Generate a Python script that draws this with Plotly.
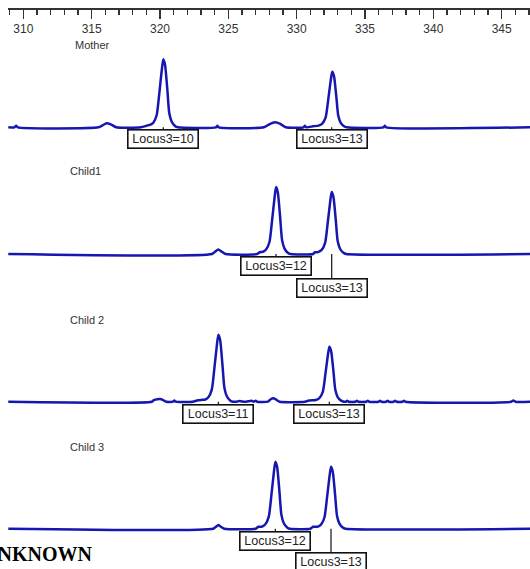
import plotly.graph_objects as go

# ---------------- data ----------------
panel_names = ["Mother", "Child1", "Child 2", "Child 3"]

mother_bp = [308.9, 309.35, 309.47, 309.6, 315.5, 315.8, 316.1, 316.4, 316.8,
             318.6, 319.0, 319.35, 319.51, 319.76, 319.95, 320.13, 320.24, 320.37,
             320.54, 320.68, 320.86, 321.1, 321.3, 324.1, 324.2, 324.3,
             327.6, 328.0, 328.4, 328.8, 329.2, 330.5, 330.6, 330.7,
             331.2, 331.6, 331.87, 332.12, 332.31, 332.49, 332.6, 332.73, 332.9,
             333.04, 333.22, 333.46, 333.66, 336.35, 336.45, 336.55, 347.07]
mother_rfu = [0, 0, 15, 0, 0, 20, 40, 30, 0,
              0, 15, 30, 45, 123, 340, 573, 680, 623,
              373, 140, 56, 13, 0, 0, 15, 0,
              0, 30, 50, 35, 0, 0, 15, 0,
              10, 17, 37, 100, 278, 467, 556, 512, 306,
              117, 44, 11, 0, 0, 15, 0, 0]

child1_bp = [308.9, 323.8, 324.05, 324.27, 324.5, 324.8, 327.1, 327.3,
             327.49, 327.76, 328.01, 328.2, 328.38, 328.49, 328.62, 328.79, 328.93,
             329.11, 329.35, 329.55, 331.2, 331.35,
             331.56, 331.83, 332.08, 332.27, 332.45, 332.56, 332.69, 332.86, 333.0,
             333.18, 333.42, 333.62, 347.07]
child1_rfu = [0, 0, 25, 45, 25, 0, 0, 18,
              20, 45, 120, 335, 563, 670, 616, 369, 141,
              54, 13, 0, 0, 18,
              19, 41, 112, 310, 521, 620, 570, 341, 130,
              50, 12, 0, 0]

child2_bp = [308.9, 319.4, 319.55, 319.8, 320.1, 320.3, 320.45, 320.95, 321.05, 321.15,
             322.4, 322.7, 323.0,
             323.27, 323.54, 323.79, 323.98, 324.16, 324.27, 324.4, 324.57, 324.71,
             324.89, 325.13, 325.33, 325.6, 325.8, 326.0, 326.3, 326.7, 326.85,
             327.0, 327.1, 327.9, 328.1, 328.3, 328.5, 328.75, 330.6, 330.9, 331.2,
             331.39, 331.66, 331.91, 332.1, 332.28, 332.39, 332.52, 332.69, 332.83,
             333.01, 333.25, 333.45, 333.6, 333.7, 333.8, 334.3, 334.4, 334.5,
             335.1, 335.2, 335.3, 336.0, 336.1, 336.2, 336.55, 336.65, 336.75,
             337.1, 337.2, 337.3, 337.75, 337.85, 337.95, 345.7, 345.85, 346.0, 347.07]
child2_rfu = [0, 0, 15, 25, 25, 10, 0, 0, 12, 0,
              0, 12, 18,
              20, 44, 121, 335, 563, 670, 616, 369, 141,
              54, 13, 0, 0, 8, 3, 0, 10, 0,
              10, 0, 0, 25, 35, 20, 0, 0, 12, 15,
              17, 36, 99, 275, 462, 550, 506, 303, 116,
              44, 11, 0, 0, 10, 0, 0, 10, 0,
              0, 10, 0, 0, 10, 0, 0, 10, 0,
              0, 10, 0, 0, 10, 0, 0, 12, 0, 0]

child3_bp = [308.9, 323.9, 324.1, 324.27, 324.45, 324.7, 327.0, 327.2,
             327.44, 327.71, 327.96, 328.15, 328.33, 328.44, 328.57, 328.74, 328.88,
             329.06, 329.3, 329.5, 331.0, 331.2,
             331.51, 331.78, 332.03, 332.22, 332.4, 332.51, 332.64, 332.81, 332.95,
             333.13, 333.37, 333.57, 347.07]
child3_rfu = [0, 0, 20, 37, 20, 0, 0, 20,
              20, 44, 121, 335, 563, 670, 616, 369, 141,
              54, 13, 0, 0, 20,
              19, 41, 112, 310, 521, 620, 570, 341, 130,
              50, 12, 0, 0]

# allele calls: (panel index, size in bp, label, box row 0=near, 1=lower)
call_panel = [0, 0, 1, 1, 2, 2, 3, 3]
call_bp = [320.24, 332.56, 328.49, 332.56, 324.27, 332.39, 328.44, 332.51]
call_text = ["Locus3=10", "Locus3=13", "Locus3=12", "Locus3=13",
             "Locus3=11", "Locus3=13", "Locus3=12", "Locus3=13"]
call_row = [0, 0, 0, 1, 0, 0, 0, 1]

tick_start, tick_end = 310, 345
x_min, x_max = 308.88, 347.07

# ---------------- layout helpers ----------------
W, H = 530, 569
def py(p):
    return 1 - p / H

baselines_px = [127.3, 254.0, 401.7, 528.7]
above_px, below_px = 80, 40
y_lo, y_hi = -400, 800

traces = [(mother_bp, mother_rfu), (child1_bp, child1_rfu),
          (child2_bp, child2_rfu), (child3_bp, child3_rfu)]

fig = go.Figure()
line_color = "#1616b0"
for i, (xs, ys) in enumerate(traces):
    yname = "y" if i == 0 else f"y{i+1}"
    fig.add_trace(go.Scatter(x=xs, y=ys, mode="lines", xaxis="x", yaxis=yname,
                             line=dict(color=line_color, width=2.5, shape="spline", smoothing=0.6),
                             hoverinfo="skip", showlegend=False))

layout = dict(
    width=W, height=H, margin=dict(l=0, r=0, t=0, b=0),
    plot_bgcolor="white", paper_bgcolor="white", showlegend=False,
    xaxis=dict(domain=[8 / W, 1], range=[x_min, x_max], anchor="free", position=py(9),
               side="bottom", showline=True, linecolor="#333", linewidth=2,
               ticks="outside", ticklen=9, tickwidth=1.5, tickcolor="#333",
               tick0=tick_start, dtick=5, showgrid=False, zeroline=False,
               minor=dict(dtick=1, ticks="outside", ticklen=5, tickwidth=1.2,
                          tickcolor="#333", showgrid=False),
               tickfont=dict(family="Liberation Sans", size=12, color="#333")),
)
for i, b in enumerate(baselines_px):
    key = "yaxis" if i == 0 else f"yaxis{i+1}"
    layout[key] = dict(domain=[py(b + below_px), py(b - above_px)], range=[y_lo, y_hi],
                       visible=False, anchor="free", position=0, fixedrange=True)
fig.update_layout(**layout)

rfu_per_px = (y_hi - y_lo) / (above_px + below_px)
row_center_px = [12.0, 33.5]
row_top_px = [2.7, 24.3]

annotations = []
shapes = []
name_x_px = [73.3, 68.3, 68.3, 68.3]
name_y_px = [45, 171, 320, 447]
for i, nm in enumerate(panel_names):
    annotations.append(dict(text=nm, xref="paper", yref="paper", x=name_x_px[i] / W,
                            y=py(name_y_px[i]), xanchor="left", yanchor="middle",
                            showarrow=False,
                            font=dict(family="Liberation Sans", size=11, color="#333")))

for p, bp, txt, row in zip(call_panel, call_bp, call_text, call_row):
    yref = "y" if p == 0 else f"y{p+1}"
    annotations.append(dict(text=txt, xref="x", yref=yref, x=bp,
                            y=-row_center_px[row] * rfu_per_px,
                            xanchor="center", yanchor="middle", showarrow=False,
                            width=67, height=15, borderwidth=1.6, borderpad=1,
                            bordercolor="#111", bgcolor="white",
                            font=dict(family="Liberation Sans", size=12.5, color="#222")))
    shapes.append(dict(type="line", xref="x", yref=yref, x0=bp, x1=bp, y0=0,
                       y1=-row_top_px[row] * rfu_per_px,
                       line=dict(color="#222", width=1.3)))

annotations.append(dict(text="<b>UNKNOWN</b>", xref="paper", yref="paper", x=93.5 / W,
                        y=py(554), xanchor="right", yanchor="middle", showarrow=False,
                        font=dict(family="Liberation Serif", size=20, color="black")))

fig.update_layout(annotations=annotations, shapes=shapes)
fig.write_html("out.html", config={"displayModeBar": False, "staticPlot": True},
               post_script="document.body.style.margin='0';document.body.style.overflow='hidden';")
